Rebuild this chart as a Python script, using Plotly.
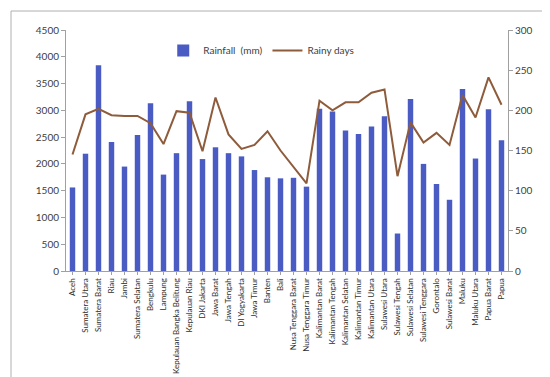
import plotly.graph_objects as go

provinces = ["Aceh", "Sumatera Utara", "Sumatera Barat", "Riau", "Jambi", "Sumatera Selatan",
             "Bengkulu", "Lampung", "Kepulauan Bangka Belitung", "Kepulauan Riau", "DKI Jakarta",
             "Jawa Barat", "Jawa Tengah", "DI Yogyakarta", "Jawa Timur", "Banten", "Bali",
             "Nusa Tenggara Barat", "Nusa Tenggara Timur", "Kalimantan Barat", "Kalimantan Tengah",
             "Kalimantan Selatan", "Kalimantan Timur", "Kalimantan Utara", "Sulawesi Utara",
             "Sulawesi Tengah", "Sulawesi Selatan", "Sulawesi Tenggara", "Gorontalo",
             "Sulawesi Barat", "Maluku", "Maluku Utara", "Papua Barat", "Papua"]

rainfall_mm = [1560, 2190, 3840, 2410, 1950, 2540, 3130, 1800, 2200, 3170, 2090,
               2310, 2200, 2140, 1885, 1750, 1730, 1740, 1575, 3030, 2980,
               2625, 2560, 2700, 2890, 700, 3210, 2000, 1625, 1330, 3400, 2100, 3020, 2440]

rainy_days = [145, 195, 202, 194, 193, 193, 184, 158, 199, 197, 149,
              216, 170, 152, 157, 174, 150, 130, 109, 212, 200,
              210, 210, 222, 226, 118, 185, 160, 172, 157, 219, 191, 241, 207]

left_ticks = list(range(0, 4501, 500))
right_ticks = list(range(0, 301, 50))

fig = go.Figure()
fig.add_trace(go.Bar(x=provinces, y=rainfall_mm, name="Rainfall  (mm)",
                     marker=dict(color="#4A5CC4", line=dict(width=0)), yaxis="y"))
fig.add_trace(go.Scatter(x=provinces, y=rainy_days, name="Rainy days", mode="lines",
                         line=dict(color="#8E5B3B", width=2), yaxis="y2"))

font = "Lato, Open Sans, sans-serif"
fig.update_layout(
    width=550, height=377,
    margin=dict(l=58, r=50, t=22, b=114),
    paper_bgcolor="white", plot_bgcolor="white",
    font=dict(family=font, size=10, color="#404040"),
    bargap=0.58,
    showlegend=True,
    legend=dict(orientation="h", x=0.22, y=0.915, xanchor="left", yanchor="middle",
                font=dict(size=10, color="#404040"), bgcolor="rgba(0,0,0,0)",
                itemwidth=30, tracegroupgap=0),
    xaxis=dict(tickangle=-90, tickfont=dict(size=8, color="#303030"),
               showline=True, linecolor="#A0A0A0", linewidth=1,
               ticks="outside", ticklen=3, tickcolor="#A0A0A0",
               showgrid=False, automargin=False),
    yaxis=dict(range=[0, 4500], tickvals=left_ticks, showgrid=False,
               showline=True, linecolor="#A0A0A0", linewidth=1,
               ticks="outside", ticklen=4, tickcolor="#A0A0A0",
               zeroline=False, automargin=False),
    yaxis2=dict(range=[0, 300], tickvals=right_ticks, overlaying="y", side="right",
                showgrid=False, showline=True, linecolor="#A0A0A0", linewidth=1,
                ticks="outside", ticklen=4, tickcolor="#A0A0A0",
                zeroline=False, automargin=False),
    shapes=[dict(type="rect", xref="paper", yref="paper",
                 x0=-0.1244, x1=1.1063, y0=-0.4606, y1=1.0788,
                 line=dict(color="#B0B0B0", width=1), fillcolor="rgba(0,0,0,0)")],
)

fig.write_html("out.html")
